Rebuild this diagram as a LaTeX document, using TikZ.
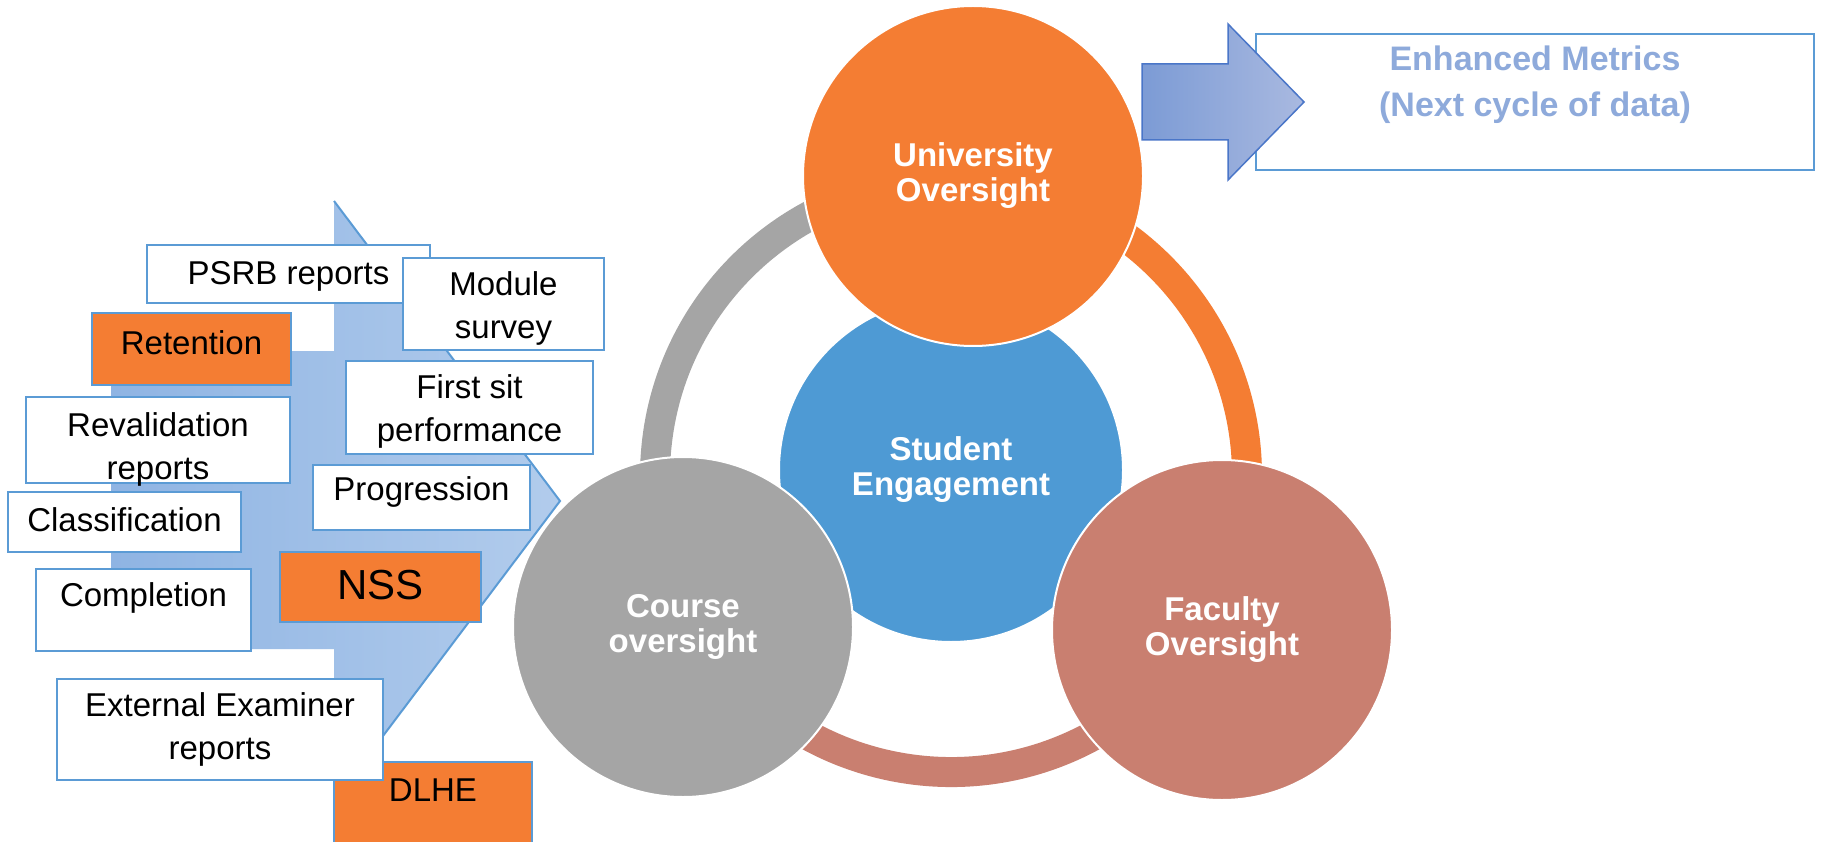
\documentclass[tikz,border=0pt]{standalone}
\usepackage{fontspec}
\setmainfont{Liberation Sans}
\usetikzlibrary{calc}
\definecolor{orng}{HTML}{F47D33}
\definecolor{gry}{HTML}{A5A5A5}
\definecolor{seblue}{HTML}{4E9AD4}
\definecolor{brwn}{HTML}{C97F70}
\definecolor{edge}{HTML}{5B9BD5}
\definecolor{metric}{HTML}{8EAADB}
\definecolor{arrL}{HTML}{8FB4E3}
\definecolor{arrR}{HTML}{B2CCEC}
\definecolor{nextL}{HTML}{7C9BD5}
\definecolor{nextR}{HTML}{A9B9E0}
\definecolor{nextedge}{HTML}{4A76C8}
\begin{document}
\begin{tikzpicture}[x=1pt,y=-1pt,
  box/.style={draw=edge, line width=2pt, fill=white, inner sep=0pt},
  obox/.style={box, fill=orng},
  txt/.style={font=\fontsize{33}{43}\selectfont, align=center, inner sep=0pt},
  hub/.style={circle, draw=white, line width=2pt, inner sep=0pt, minimum size=340pt,
    text=white, font=\bfseries\fontsize{33}{35}\selectfont, align=center},
  ring/.style={line width=30pt}]

\useasboundingbox (0,0) rectangle (1822,842);
\fill[white] (0,0) rectangle (1822,842);

% ---- data-source block arrow
\path[left color=arrL, right color=arrR]
  (111,351) -- (334,351) -- (334,201) -- (560,501) -- (334,801) -- (334,649) -- (111,649) -- cycle;
\draw[edge, line width=2pt] (334,201) -- (560,501) -- (334,801);

% ---- metric boxes
\node[box, minimum width=283pt, minimum height=58pt] (psrb) at (288.5,274) {};
\node[txt] (psrbT) at (288.5,276) {PSRB reports};

\node[box, minimum width=201pt, minimum height=92pt] (module) at (503.5,304) {};
\node[txt] (moduleT) at (503.5,308) {Module\\survey};

\node[obox, minimum width=199pt, minimum height=72pt] (ret) at (191.5,349) {};
\node[txt] (retT) at (191.5,343) {Retention};

\node[box, minimum width=264pt, minimum height=86pt] (reval) at (158,440) {};
\node[txt] (revalT) at (158,449) {Revalidation\\reports};

\node[box, minimum width=247pt, minimum height=93pt] (first) at (469.5,407.5) {};
\node[txt] (firstT) at (469.5,411) {First sit\\performance};

\node[box, minimum width=217pt, minimum height=65pt] (prog) at (421.5,497.5) {};
\node[txt] (progT) at (421.5,492) {Progression};

\node[box, minimum width=233pt, minimum height=60pt] (class) at (124.5,522) {};
\node[txt] (classT) at (124.5,520) {Classification};

\node[obox, minimum width=201pt, minimum height=70pt] (nss) at (380.5,587) {};
\node[txt, font=\fontsize{42}{48}\selectfont] (nssT) at (380.5,585) {NSS};

\node[box, minimum width=215pt, minimum height=82pt] (compl) at (143.5,610) {};
\node[txt] (complT) at (143.5,598) {Completion};

\node[obox, minimum width=198pt, minimum height=98pt] (dlhe) at (433,811) {};
\node[txt] (dlheT) at (433,790) {DLHE};

\node[box, minimum width=326pt, minimum height=101pt] (ext) at (220,729.5) {};
\node[txt] (extT) at (220,729) {External Examiner\\reports};

% ---- oversight cycle ring
\coordinate (ringc) at (951,476);
\draw[ring, gry]  ($(ringc)+(-86:296)$)  arc[start angle=-86,  end angle=-209, radius=296];
\draw[ring, orng] ($(ringc)+(-86:296)$)  arc[start angle=-86,  end angle=30,   radius=296];
\draw[ring, brwn] ($(ringc)+(-209:296)$) arc[start angle=-209, end angle=-330, radius=296];

\node[hub, fill=seblue, minimum size=344pt] (se) at (951,470) {Student\\Engagement};
\node[hub, fill=orng] (uni) at (973,176) {University\\Oversight};
\node[hub, fill=gry] (course) at (683,627) {Course\\oversight};
\node[hub, fill=brwn] (fac) at (1222,630) {Faculty\\Oversight};

% ---- next cycle output
\node[box, minimum width=558pt, minimum height=136pt] (metbox) at (1535,102) {};
\node[text=metric, font=\bfseries\fontsize{34}{46}\selectfont, align=center, inner sep=0pt]
  (metT) at (1535,85) {Enhanced Metrics\\(Next cycle of data)};
\draw[nextedge, line width=1.5pt, left color=nextL, right color=nextR]
  (1142,64) -- (1228,64) -- (1228,24) -- (1304,102) -- (1228,180) -- (1228,140) -- (1142,140) -- cycle;
\end{tikzpicture}
\end{document}
